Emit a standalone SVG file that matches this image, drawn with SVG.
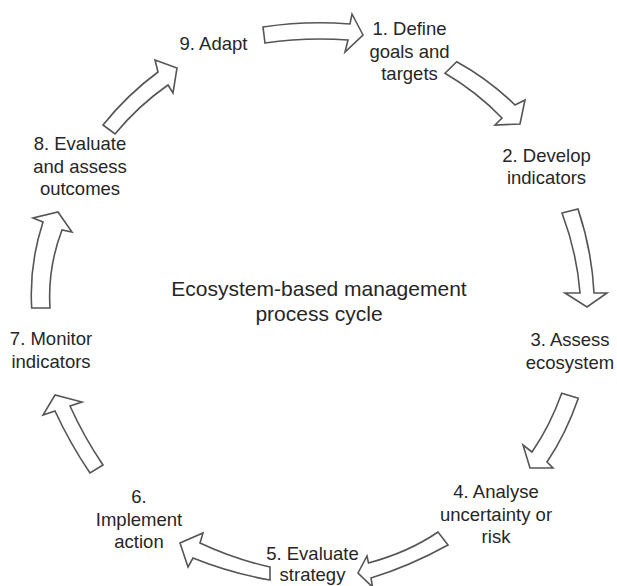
<svg xmlns="http://www.w3.org/2000/svg" width="617" height="586" viewBox="0 0 617 586">
  <style>
    .bg { fill: #ffffff; }
    .lbl { font-family: "Liberation Sans", Arial, sans-serif; font-size: 18.5px; fill: #262626; text-anchor: middle; }
    .title { font-family: "Liberation Sans", Arial, sans-serif; font-size: 21px; fill: #262626; text-anchor: middle; }
    .arrow { fill: #ffffff; stroke: #555555; stroke-width: 1.6; stroke-linejoin: miter; }
  </style>
  <rect class="bg" x="0" y="0" width="617" height="586"/>

  <!-- cycle connectors: curved block arrows -->
  <g id="connectors">
    <path id="a9-1" class="arrow" d="M263,27 Q306,20.5 350,24 L352,14 L363,35 L345,52 L348,40 Q306,37 265,43 Z"/>
    <path id="a1-2" class="arrow" d="M456.7,61.7 Q489,79.4 515,105 L525,100 L520,124 L495,125 L502,118 Q476.5,91.7 445,73.3 Z"/>
    <path id="a2-3" class="arrow" d="M578,209 Q592,251 594,293 L607,293 L587,307 L565,293 L580,293 Q577,253 562,213 Z"/>
    <path id="a3-4" class="arrow" d="M578.3,398.3 Q566,434 547,462 L553,468 L530,468 L523,445 L532,452 Q550,426 561.7,393.3 Z"/>
    <path id="a4-5" class="arrow" d="M448,545 Q410,566 371,578 L372.5,587 L358,573 L367,556 L368.5,563 Q409,552 438,532 Z"/>
    <path id="a5-6" class="arrow" d="M270,580 Q230,573 193,558 L188,567 L180,543 L203,533 L200,543 Q234,559 270,567 Z"/>
    <path id="a6-7" class="arrow" d="M90,473 Q70,443.5 55,411 L43,415 L55,395 L82,402 L70,406 Q84,437 103,465 Z"/>
    <path id="a7-8" class="arrow" d="M31.7,308 Q29,265 43,222 L33,218 L58,212 L72,232 L62,230 Q47.5,268 50,308 Z"/>
    <path id="a8-9" class="arrow" d="M103,125 Q127.5,94.5 158,72 L155,60 L177,68 L173,93 L168,85 Q138.5,105.5 115,134 Z"/>
  </g>

  <g id="center-title">
    <text class="title" x="319" y="296">Ecosystem-based management</text>
    <text class="title" x="319" y="321">process cycle</text>
  </g>

  <g id="step1">
    <text class="lbl" x="409.5" y="35">1. Define</text>
    <text class="lbl" x="409.5" y="57.5">goals and</text>
    <text class="lbl" x="409.5" y="80">targets</text>
  </g>
  <g id="step2">
    <text class="lbl" x="546.5" y="161.5">2. Develop</text>
    <text class="lbl" x="546.5" y="184">indicators</text>
  </g>
  <g id="step3">
    <text class="lbl" x="570" y="346">3. Assess</text>
    <text class="lbl" x="570" y="368.5">ecosystem</text>
  </g>
  <g id="step4">
    <text class="lbl" x="496" y="498">4. Analyse</text>
    <text class="lbl" x="496" y="520.5">uncertainty or</text>
    <text class="lbl" x="496" y="543">risk</text>
  </g>
  <g id="step5">
    <text class="lbl" x="312.5" y="560">5. Evaluate</text>
    <text class="lbl" x="312.5" y="581">strategy</text>
  </g>
  <g id="step6">
    <text class="lbl" x="139" y="503">6.</text>
    <text class="lbl" x="139" y="525.5">Implement</text>
    <text class="lbl" x="139" y="548">action</text>
  </g>
  <g id="step7">
    <text class="lbl" x="51" y="345">7. Monitor</text>
    <text class="lbl" x="51" y="367.5">indicators</text>
  </g>
  <g id="step8">
    <text class="lbl" x="80" y="150">8. Evaluate</text>
    <text class="lbl" x="80" y="172.5">and assess</text>
    <text class="lbl" x="80" y="195">outcomes</text>
  </g>
  <g id="step9">
    <text class="lbl" x="213.5" y="50">9. Adapt</text>
  </g>
</svg>
